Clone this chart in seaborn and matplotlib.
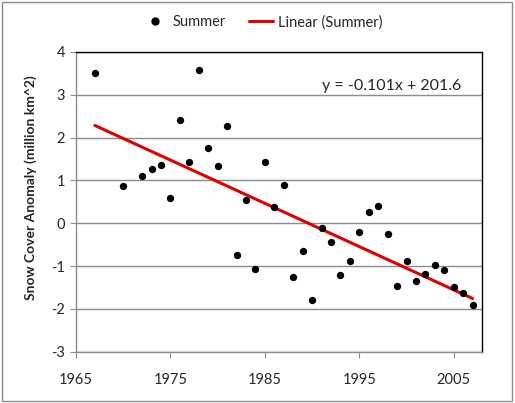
import matplotlib
matplotlib.use("Agg")
import matplotlib.pyplot as plt
from matplotlib.patches import Rectangle
from matplotlib.lines import Line2D
import seaborn as sns
import pandas as pd

years = [1967, 1970, 1972, 1973, 1974, 1975, 1976, 1977, 1978, 1979, 1980,
         1981, 1982, 1983, 1984, 1985, 1986, 1987, 1988, 1989, 1990, 1991,
         1992, 1993, 1994, 1995, 1996, 1997, 1998, 1999, 2000, 2001, 2002,
         2003, 2004, 2005, 2006, 2007]
anomaly = [3.5, 0.86, 1.1, 1.26, 1.35, 0.58, 2.42, 1.44, 3.57, 1.77, 1.33,
           2.28, -0.75, 0.54, -1.07, 1.44, 0.37, 0.89, -1.26, -0.65, -1.8, -0.1,
           -0.44, -1.21, -0.89, -0.21, 0.26, 0.4, -0.26, -1.47, -0.89, -1.35, -1.19,
           -0.98, -1.1, -1.49, -1.63, -1.91]
x_ticks = [1965, 1975, 1985, 1995, 2005]
y_ticks = [-3, -2, -1, 0, 1, 2, 3, 4]

df = pd.DataFrame({"year": years, "anomaly": anomaly})

sns.set_style("white")
plt.rcParams['font.family'] = ['Lato', 'DejaVu Sans']
plt.rcParams['axes.unicode_minus'] = False

fig = plt.figure(figsize=(5.15, 4.03), dpi=100)
ax = fig.add_axes([0.1476, 0.127, 0.7884, 0.744])

for v in y_ticks:
    ax.axhline(v, color='#8c8c8c', lw=1, zorder=0)

sns.scatterplot(data=df, x="year", y="anomaly", ax=ax, color='black', s=28,
                edgecolor='black', linewidth=0, zorder=3)
sns.regplot(data=df, x="year", y="anomaly", ax=ax, scatter=False, ci=None,
            truncate=True, line_kws={'color': '#e00000', 'lw': 2.2, 'zorder': 2})

ax.set_xlim(1965, 2008)
ax.set_ylim(-3, 4)
ax.set_xticks(x_ticks)
ax.set_yticks(y_ticks)
ax.set_xlabel("")
ax.set_ylabel("Snow Cover Anomaly (million km^2)", fontsize=10, fontweight='bold')
ax.yaxis.set_label_coords(-0.097, 0.547)
ax.tick_params(axis='both', labelsize=10.5, direction='out', length=4, color='#8c8c8c',
               left=True, bottom=True, pad=4)
ax.tick_params(axis='x', pad=11)

ax.spines['left'].set_color('#8c8c8c')
ax.spines['bottom'].set_color('#8c8c8c')
ax.spines['top'].set_color('black')
ax.spines['right'].set_color('black')
for s in ax.spines.values():
    s.set_linewidth(1)

ax.text(0.95, 0.885, "y = -0.101x + 201.6", transform=ax.transAxes, ha='right',
        va='center', fontsize=11.5)

handles = [Line2D([], [], marker='o', color='black', ls='none', markersize=5),
           Line2D([], [], color='#e00000', lw=2.2)]
fig.legend(handles, ["Summer", "Linear (Summer)"], loc='center', bbox_to_anchor=(0.51, 0.945),
           ncol=2, frameon=False, fontsize=10.5, handlelength=1.7, columnspacing=1.6,
           handletextpad=0.3)

fig.patches.append(Rectangle((0.004, 0.006), 0.99, 0.988, transform=fig.transFigure,
                             fill=False, edgecolor='#8c8c8c', lw=1))

fig.savefig("out.png", dpi=100)
